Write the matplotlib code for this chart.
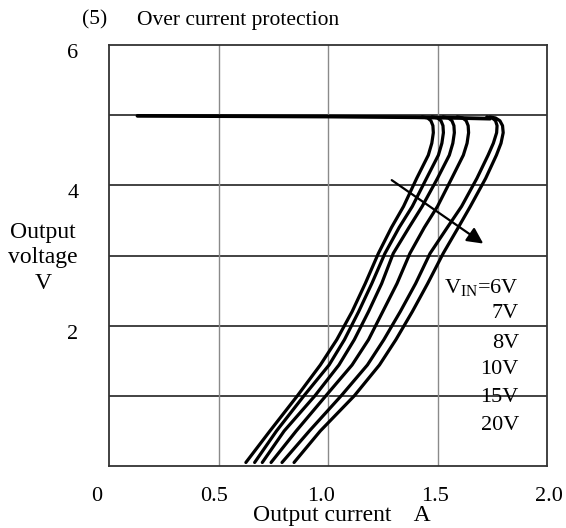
import matplotlib
matplotlib.use("Agg")
import matplotlib.pyplot as plt
import matplotlib.transforms as mtransforms

plt.rcParams['font.family'] = ['Liberation Serif', 'DejaVu Serif']
plt.rcParams['mathtext.fontset'] = 'custom'
plt.rcParams['mathtext.rm'] = 'Liberation Serif'

# ---- data ----
voltage_levels = [0.05, 0.5, 1.0, 1.44, 1.8, 2.2, 2.6, 3.03, 3.4, 3.7, 4.1, 4.43,
                  4.6, 4.75, 4.85, 4.92, 4.96, 4.975]
current_6v  = [0.625, 0.735, 0.86, 0.965, 1.04, 1.11, 1.17, 1.230, 1.29, 1.345, 1.405, 1.458,
               1.474, 1.481, 1.479, 1.47, 1.455, 1.43]
current_7v  = [0.665, 0.765, 0.89, 1.005, 1.075, 1.14, 1.20, 1.260, 1.325, 1.385, 1.45, 1.504,
               1.52, 1.527, 1.525, 1.516, 1.50, 1.475]
current_8v  = [0.70, 0.80, 0.94, 1.05, 1.12, 1.185, 1.245, 1.298, 1.37, 1.43, 1.50, 1.554,
               1.57, 1.577, 1.575, 1.566, 1.55, 1.525]
current_10v = [0.74, 0.855, 0.99, 1.11, 1.185, 1.25, 1.315, 1.374, 1.44, 1.50, 1.565, 1.618,
               1.635, 1.642, 1.64, 1.631, 1.615, 1.59]
current_15v = [0.79, 0.915, 1.06, 1.18, 1.255, 1.33, 1.40, 1.466, 1.545, 1.61, 1.68, 1.731,
               1.755, 1.77, 1.772, 1.765, 1.75, 1.725]
current_20v = [0.845, 0.965, 1.12, 1.235, 1.31, 1.385, 1.455, 1.526, 1.595, 1.65, 1.72, 1.769,
               1.79, 1.80, 1.797, 1.785, 1.765, 1.74]
series = [current_6v, current_7v, current_8v, current_10v, current_15v, current_20v]

top_current = [0.13, 0.6, 1.0, 1.4, 1.6, 1.74]
top_voltage = [4.99, 4.985, 4.98, 4.97, 4.96, 4.95]

legend_labels = [r'V$_{\mathregular{IN}}$=6V', '7V', '8V', '10V', '15V', '20V']
legend_y = [2.54, 2.18, 1.75, 1.37, 0.97, 0.58]

x_ticks = [0, 0.5, 1.0, 1.5, 2.0]
x_ticklabels = ['0', '0.5', '1.0', '1.5', '2.0']
y_ticks = [2, 4, 6]
y_ticklabels = ['2', '4', '6']

arrow_start = (1.291, 4.074)
arrow_end = (1.709, 3.17)

# ---- figure ----
fig = plt.figure(figsize=(5.66, 5.28), dpi=100)
ax = fig.add_axes([109/566, 62/528, 438/566, 421/528])
ax.set_xlim(0, 2.0)
ax.set_ylim(0, 6)

for yv in [1, 2, 3, 4, 5]:
    ax.axhline(yv, color='#222222', lw=1.2, zorder=1)
for xv in [0.5, 1.0, 1.5]:
    ax.axvline(xv, color='#8a8a8a', lw=1.0, zorder=1)

for cur in series:
    ax.plot(cur, voltage_levels, color='black', lw=2.3, solid_capstyle='round',
            solid_joinstyle='round', zorder=3)
ax.plot(top_current, top_voltage, color='black', lw=2.7, solid_capstyle='round', zorder=3)

ax.annotate('', xy=arrow_end, xytext=arrow_start,
            arrowprops=dict(arrowstyle='-|>', color='black', lw=1.6,
                            mutation_scale=24, shrinkA=0, shrinkB=0), zorder=4)

for lab, yv in zip(legend_labels, legend_y):
    ax.text(1.872, yv, lab, ha='right', va='center', fontsize=16, zorder=5)

for s in ax.spines.values():
    s.set_color('#333333')
    s.set_linewidth(1.3)

ax.set_xticks(x_ticks)
ax.set_xticklabels(x_ticklabels, fontsize=16)
ax.set_yticks(y_ticks)
ax.set_yticklabels(y_ticklabels, fontsize=16)
ax.tick_params(axis='both', length=0)
ax.tick_params(axis='x', pad=15)
ax.tick_params(axis='y', pad=22)

x_offsets = [-12, -4, -7, -2, 2]
for lbl, dx in zip(ax.get_xticklabels(), x_offsets):
    lbl.set_transform(lbl.get_transform() + mtransforms.ScaledTranslation(dx/100, 0, fig.dpi_scale_trans))
for lbl in ax.get_yticklabels():
    lbl.set_transform(lbl.get_transform() + mtransforms.ScaledTranslation(0, -6/100, fig.dpi_scale_trans))

fig.text(43/566, 1 - 258/528, 'Output\nvoltage\nV', ha='center', va='center',
         fontsize=17, linespacing=1.3)
fig.text(342/566, 1 - 515/528, 'Output current    A', ha='center', va='center', fontsize=17)
fig.text(82/566, 1 - 20/528, '(5)', ha='left', va='center', fontsize=15.5)
fig.text(137/566, 1 - 20/528, 'Over current protection', ha='left', va='center', fontsize=15.5)

fig.savefig('out.png', dpi=100)
